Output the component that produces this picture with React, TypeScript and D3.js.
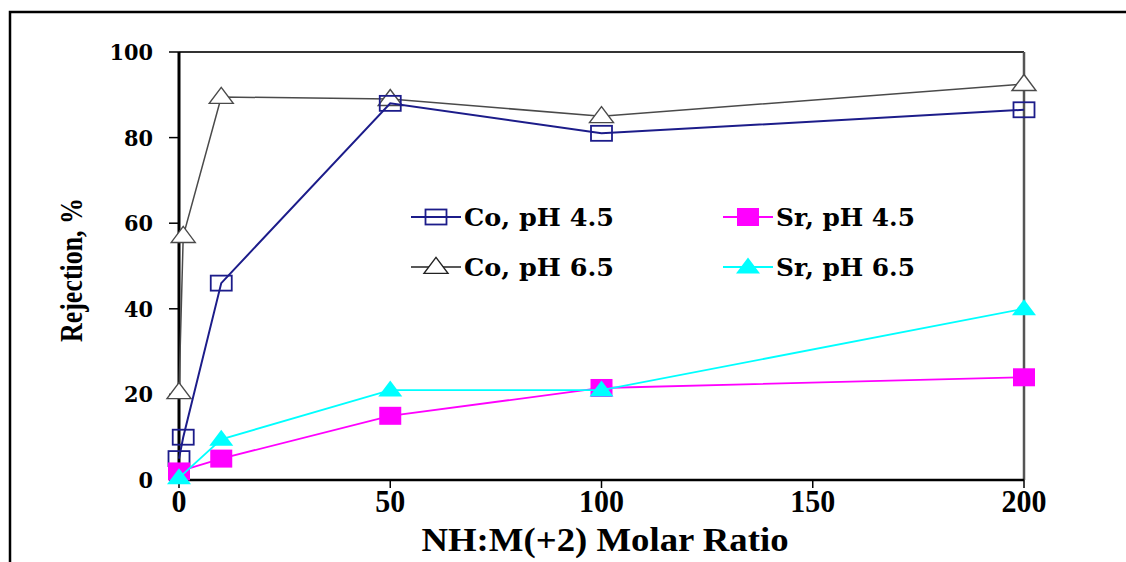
import React from 'react'
import * as d3 from 'd3'

const ratioCo = [0, 1, 10, 50, 100, 200]
const coPh45 = [5, 10, 46, 88, 81, 86.5]
const coPh65 = [20.5, 57, 89.5, 89, 85, 92.5]
const ratioSr = [0, 10, 50, 100, 200]
const srPh45 = [2, 5, 15, 21.5, 24]
const srPh65 = [0.5, 9.5, 21, 21, 40]

const xTicks = [0, 50, 100, 150, 200]
const yTicks = [0, 20, 40, 60, 80, 100]

const seriesNames = ['Co, pH 4.5', 'Sr, pH 4.5', 'Co, pH 6.5', 'Sr, pH 6.5']

const W = 1126
const H = 562
const left = 179, right = 1024, top = 52, bottom = 480

const serif = '"Liberation Serif", "Times New Roman", serif'
const wideSerif = '"DejaVu Serif", serif'

function Marker({kind, color, x, y}: {kind: string, color: string, x: number, y: number}) {
  if (kind === 'openSquare') {
    return <rect x={x - 10.5} y={y - 7.5} width={21} height={15} fill="none" stroke={color} strokeWidth={1.8} />
  }
  if (kind === 'square') {
    return <rect x={x - 11} y={y - 9} width={22} height={18} fill={color} />
  }
  const w = 24, h = 16
  const p = `M${x},${y - h * 0.6}L${x + w / 2},${y + h * 0.4}L${x - w / 2},${y + h * 0.4}Z`
  if (kind === 'openTriangle') {
    return <path d={p} fill="white" stroke={color} strokeWidth={1.4} />
  }
  return <path d={p} fill={color} />
}

export default function App() {
  const x = d3.scaleLinear().domain([0, 200]).range([left, right])
  const y = d3.scaleLinear().domain([0, 100]).range([bottom, top])

  const series = [
    {name: seriesNames[2], xs: ratioCo, ys: coPh65, color: '#4a4a4a', width: 1.5, kind: 'openTriangle'},
    {name: seriesNames[0], xs: ratioCo, ys: coPh45, color: '#1c1c8a', width: 2, kind: 'openSquare'},
    {name: seriesNames[1], xs: ratioSr, ys: srPh45, color: '#ff00ff', width: 1.8, kind: 'square'},
    {name: seriesNames[3], xs: ratioSr, ys: srPh65, color: '#00ffff', width: 1.8, kind: 'triangle'},
  ]

  const lineGen = d3.line<[number, number]>().x(d => x(d[0])).y(d => y(d[1]))

  // legend placement (2 x 2 grid)
  const legendPos: Record<string, [number, number]> = {
    'Co, pH 4.5': [411, 217],
    'Sr, pH 4.5': [723, 217],
    'Co, pH 6.5': [411, 267],
    'Sr, pH 6.5': [723, 267],
  }
  const legendWidths: Record<string, number> = {
    'Co, pH 4.5': 150, 'Sr, pH 4.5': 139, 'Co, pH 6.5': 150, 'Sr, pH 6.5': 139,
  }

  return (
    <svg width={W} height={H} style={{position: 'absolute', left: 0, top: 0, background: 'white'}}>
      {/* outer frame */}
      <path d={`M10,${H}L10,12L${W},12`} fill="none" stroke="black" strokeWidth={2.5} />

      {/* plot box */}
      <line x1={left} x2={right} y1={top} y2={top} stroke="#333" strokeWidth={2} />
      <line x1={right} x2={right} y1={top} y2={bottom} stroke="#555" strokeWidth={2.5} />
      <line x1={left} x2={right} y1={bottom} y2={bottom} stroke="black" strokeWidth={2.5} />
      <line x1={left} x2={left} y1={top} y2={bottom} stroke="black" strokeWidth={3} />

      {yTicks.map(t => (
        <g key={'y' + t}>
          <line x1={left - 10} x2={left} y1={y(t)} y2={y(t)} stroke="black" strokeWidth={1.5} />
          <text x={153} y={y(t) + 8} textAnchor="end" fontFamily={wideSerif} fontWeight="bold" fontSize={22}
            textLength={String(t).length * 14.5} lengthAdjust="spacingAndGlyphs">{t}</text>
        </g>
      ))}
      {xTicks.map(t => (
        <g key={'x' + t}>
          <line x1={x(t)} x2={x(t)} y1={bottom} y2={bottom + 8} stroke="black" strokeWidth={1.5} />
          <text x={x(t)} y={512} textAnchor="middle" fontFamily={serif} fontWeight="bold" fontSize={31}
            textLength={String(t).length * 15} lengthAdjust="spacingAndGlyphs">{t}</text>
        </g>
      ))}

      <text x={605} y={551} textAnchor="middle" fontFamily={serif} fontWeight="bold" fontSize={33}
        textLength={367} lengthAdjust="spacingAndGlyphs">NH:M(+2) Molar Ratio</text>
      <text transform="translate(82,270) rotate(-90)" textAnchor="middle" fontFamily={serif} fontWeight="bold"
        fontSize={32} textLength={144} lengthAdjust="spacingAndGlyphs">Rejection, %</text>

      {series.map(s => {
        const pts = s.xs.map((v, i) => [v, s.ys[i]] as [number, number])
        return (
          <g key={s.name}>
            <path d={lineGen(pts) || ''} fill="none" stroke={s.color} strokeWidth={s.width} />
            {pts.map((p, i) => <Marker key={i} kind={s.kind} color={s.color} x={x(p[0])} y={y(p[1])} />)}
          </g>
        )
      })}

      {series.map(s => {
        const [lx, ly] = legendPos[s.name]
        return (
          <g key={'lg' + s.name}>
            <line x1={lx} x2={lx + 50} y1={ly} y2={ly} stroke={s.kind === 'openTriangle' ? '#222' : s.color} strokeWidth={s.width} />
            <Marker kind={s.kind} color={s.kind === 'openTriangle' ? '#222' : s.color} x={lx + 25} y={ly} />
            <text x={lx + 53} y={ly + 9} fontFamily={wideSerif} fontWeight="bold" fontSize={25}
              textLength={legendWidths[s.name]} lengthAdjust="spacingAndGlyphs">{s.name}</text>
          </g>
        )
      })}
    </svg>
  )
}
